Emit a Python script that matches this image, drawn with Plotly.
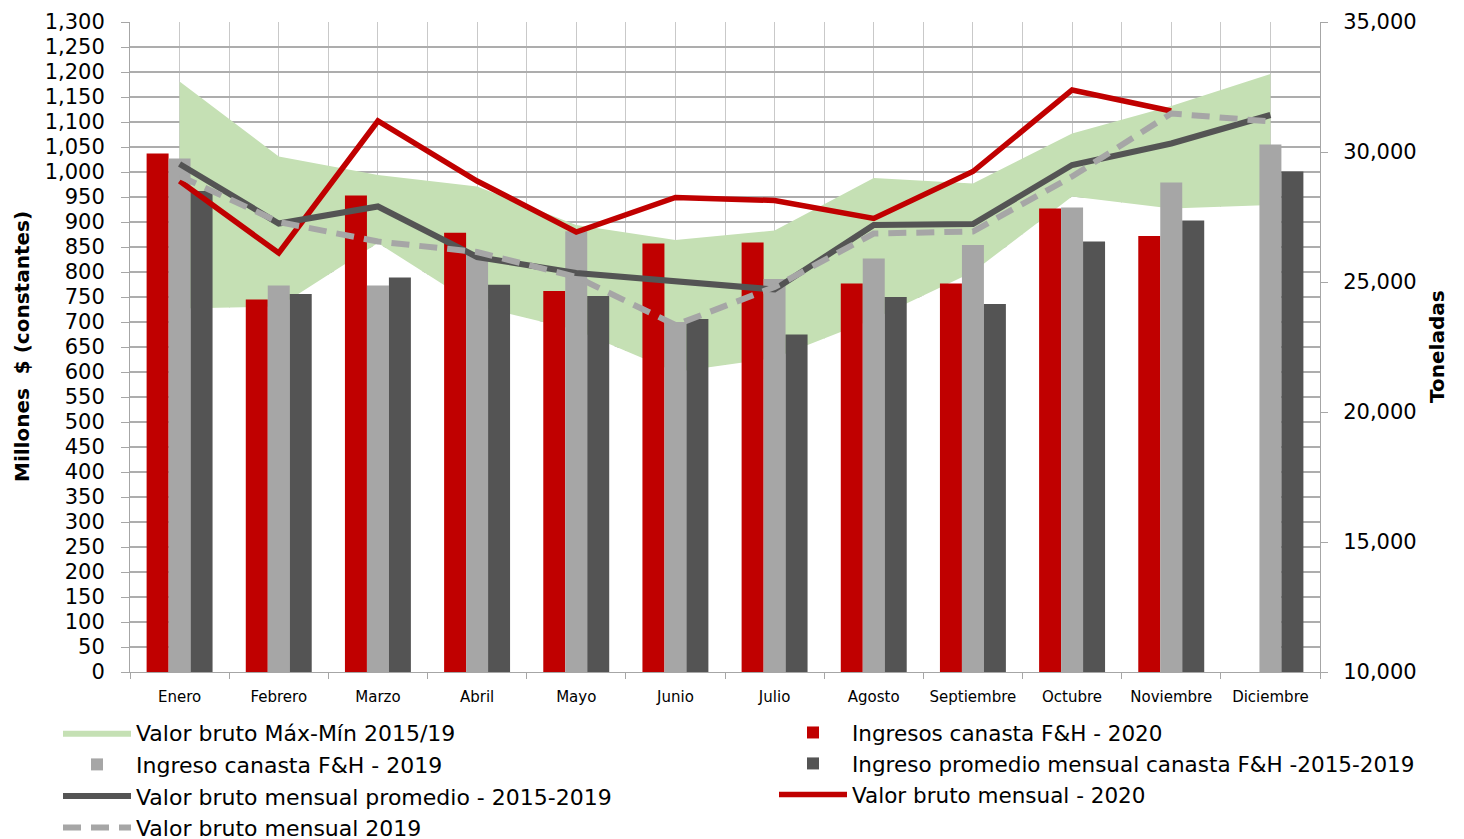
import plotly.graph_objects as go

# ---------------- data ----------------
months = ["Enero", "Febrero", "Marzo", "Abril", "Mayo", "Junio", "Julio",
          "Agosto", "Septiembre", "Octubre", "Noviembre", "Diciembre"]
pos = list(range(len(months)))

# Toneladas (right axis) - bars
ingresos_2020 = [29940, 24330, 28330, 26890, 24650, 26480, 26520, 24940, 24940, 27830, 26770, None]
ingreso_2019 = [29750, 24870, 24870, 26150, 26950, 23460, 25120, 25900, 26420, 27870, 28830, 30290]
ingreso_prom = [28500, 24540, 25170, 24890, 24460, 23580, 22980, 24420, 24150, 26560, 27370, 29250]

# Millones $ constantes (left axis) - lines / band
valor_2020 = [982, 838, 1102, 982, 880, 949, 943, 907, 1001, 1164, 1122, None]
valor_prom = [1016, 897, 931, 830, 798, 783, 765, 894, 896, 1014, 1057, 1114]
valor_2019 = [992, 900, 861, 840, 790, 694, 770, 877, 881, 991, 1117, 1101]
band_max = [1181, 1031, 994, 971, 894, 864, 883, 988, 977, 1077, 1132, 1196]
band_min = [727, 731, 858, 732, 684, 600, 628, 706, 800, 951, 927, 934]

# ---------------- style ----------------
FONT = "DejaVu Sans"
RED = "#C00000"
LGRAY = "#A6A6A6"
DGRAY = "#545454"
GREEN = "#C5E0B4"
AXC = "#A6A6A6"

W, H = 1456, 831          # page has an 8px body margin
ML, MR, MT, MB = 122, 144, 14, 167

fig = go.Figure()

# band: white up to min (hides grid), green from min to max
fig.add_trace(go.Scatter(x=pos, y=band_min, mode="lines", fill="tozeroy",
                         fillcolor="white", line=dict(width=0, color="white"),
                         showlegend=False, hoverinfo="skip", yaxis="y"))
fig.add_trace(go.Scatter(x=pos, y=band_max, mode="lines", fill="tonexty",
                         fillcolor=GREEN, line=dict(width=0, color=GREEN),
                         name="Valor bruto Máx-Mín 2015/19", legend="legend", yaxis="y"))

# bars (Toneladas)
fig.add_trace(go.Bar(x=pos, y=ingresos_2020, name="Ingresos canasta F&H - 2020",
                     marker=dict(color=RED, line=dict(width=0)), yaxis="y2", legend="legend2"))
fig.add_trace(go.Bar(x=pos, y=ingreso_2019, name="Ingreso canasta F&H - 2019",
                     marker=dict(color=LGRAY, line=dict(width=0)), yaxis="y2", legend="legend"))
fig.add_trace(go.Bar(x=pos, y=ingreso_prom, name="Ingreso promedio mensual canasta F&H -2015-2019",
                     marker=dict(color=DGRAY, line=dict(width=0)), yaxis="y2", legend="legend2"))

# lines (Millones)
fig.add_trace(go.Scatter(x=pos, y=valor_2020, mode="lines", name="Valor bruto mensual - 2020",
                         line=dict(color=RED, width=5.5), yaxis="y3", legend="legend2"))
fig.add_trace(go.Scatter(x=pos, y=valor_prom, mode="lines", name="Valor bruto mensual promedio - 2015-2019",
                         line=dict(color=DGRAY, width=6), yaxis="y3", legend="legend"))
fig.add_trace(go.Scatter(x=pos, y=valor_2019, mode="lines", name="Valor bruto mensual 2019",
                         line=dict(color=LGRAY, width=6, dash="18px,10px"), yaxis="y3", legend="legend"))

plot_w = W - ML - MR
plot_h = H - MT - MB

fig.update_layout(
    width=W, height=H,
    margin=dict(l=ML, r=MR, t=MT, b=MB, autoexpand=False),
    paper_bgcolor="white", plot_bgcolor="white",
    font=dict(family=FONT, color="black"),
    barmode="group", bargap=0.335, bargroupgap=0,
    xaxis=dict(
        range=[-0.5, 11.5], tickmode="array", tickvals=pos, ticktext=months,
        tickfont=dict(size=15, family=FONT), tickangle=0,
        showgrid=True, gridcolor="#C9C9C9", gridwidth=1,
        ticks="outside", ticklen=11, tickcolor="rgba(0,0,0,0)",
        minor=dict(tickmode="linear", tick0=-0.5, dtick=1, showgrid=True,
                   gridcolor="#C9C9C9", gridwidth=1, ticks="outside", ticklen=6,
                   tickcolor=AXC),
        showline=True, linecolor=AXC, linewidth=1, zeroline=False,
    ),
    yaxis=dict(
        range=[0, 1300], tickmode="linear", tick0=0, dtick=50, tickformat=",",
        tickfont=dict(size=21, family=FONT), ticklabeloverflow="allow",
        showgrid=True, gridcolor="#ADADAD", gridwidth=1.5,
        ticks="outside", ticklen=8, tickcolor=AXC, ticklabelstandoff=12,
        showline=True, linecolor=AXC, linewidth=1, zeroline=False,
    ),
    yaxis2=dict(
        overlaying="y", side="right",
        range=[10000, 35000], tickmode="linear", tick0=10000, dtick=5000, tickformat=",",
        tickfont=dict(size=21, family=FONT), ticklabeloverflow="allow",
        showgrid=False, ticks="outside", ticklen=7, tickcolor=AXC, ticklabelstandoff=11,
        showline=True, linecolor=AXC, linewidth=1, zeroline=False,
    ),
    yaxis3=dict(overlaying="y", range=[0, 1300], visible=False),
    legend=dict(
        xref="container", yref="container", x=50 / W, y=1 - 704 / H,
        xanchor="left", yanchor="top", orientation="v", traceorder="normal",
        font=dict(size=22, family=FONT), itemwidth=68, tracegroupgap=0,
        bgcolor="rgba(0,0,0,0)",
    ),
    legend2=dict(
        xref="container", yref="container", x=766 / W, y=1 - 704 / H,
        xanchor="left", yanchor="top", orientation="v", traceorder="normal",
        font=dict(size=21.5, family=FONT), itemwidth=68, tracegroupgap=0,
        bgcolor="rgba(0,0,0,0)",
    ),
    annotations=[
        dict(text="<b>Millones  $ (constantes)</b>", textangle=-90, showarrow=False,
             xref="paper", yref="paper", x=(14 - ML) / plot_w, y=0.5,
             xanchor="center", yanchor="middle", font=dict(size=20, family=FONT)),
        dict(text="<b>Toneladas</b>", textangle=-90, showarrow=False,
             xref="paper", yref="paper", x=(1429 - ML) / plot_w, y=0.5,
             xanchor="center", yanchor="middle", font=dict(size=20, family=FONT)),
    ],
)

fig.write_html("out.html")
